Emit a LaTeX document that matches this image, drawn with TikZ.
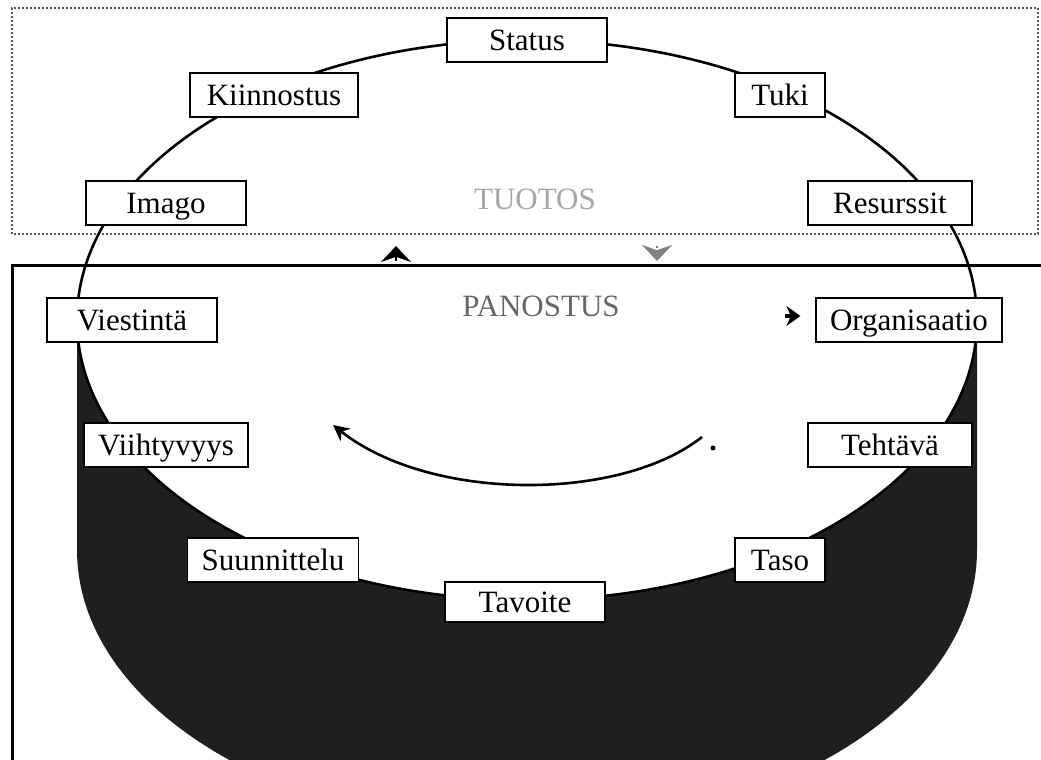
\documentclass[tikz,border=0pt]{standalone}
\usepackage{fontspec}
\setmainfont{Liberation Serif}
\usetikzlibrary{arrows.meta,calc,positioning}

\begin{document}
\begin{tikzpicture}[x=0.5pt,y=0.5pt,>=Stealth,
  lbl/.style={draw,fill=white,line width=0.7pt,minimum width=80pt,minimum height=22pt,
    inner xsep=7pt,text height=10.3pt,text depth=0pt,font=\fontsize{15.5}{18}\selectfont},
  shortlbl/.style={lbl,minimum width=45pt},
  phase/.style={font=\fontsize{15.5}{18}\selectfont,inner sep=0pt}]
\useasboundingbox (0,0) rectangle (1041,760);
\clip (0,0) rectangle (1041,760);

% frames
\draw[black!65,densely dotted,line width=1pt] (12,526) rectangle (1038,752);
\draw[line width=1.5pt] (12,-5) -- (12,494) -- (1045,494);

% dark base under the ring
\fill[black!88] (77,440) -- (77,210) arc[start angle=180,end angle=360,x radius=450,y radius=280]
  -- (977,440) arc[start angle=0,end angle=-180,x radius=450,y radius=280] -- cycle;
\draw[line width=1.3pt] (527,440) ellipse [x radius=450,y radius=280];

\node[phase,text=black!35] (tuotos) at (535,561) {TUOTOS};
\node[phase,text=black!60] (panostus) at (541,454) {PANOSTUS};

% labels on the ring
\node[lbl] (status) at (527,720) {Status};
\node[lbl,minimum width=84pt] (kiinnostus) at (274,665) {Kiinnostus};
\node[shortlbl] (tuki) at (780,665) {Tuki};
\node[lbl] (imago) at (166,557) {Imago};
\node[lbl,minimum width=82pt] (resurssit) at (890,557) {Resurssit};
\node[lbl,minimum width=85pt] (viestinta) at (132,440) {Viestintä};
\node[lbl] (organisaatio) at (909,440) {Organisaatio};
\node[lbl] (viihtyvyys) at (166,315) {Viihtyvyys};
\node[lbl,minimum width=82pt] (tehtava) at (890,315) {Tehtävä};
\node[lbl] (suunnittelu) at (273,200) {Suunnittelu};
\node[shortlbl] (taso) at (780,200) {Taso};
\node[lbl,minimum height=20pt] (tavoite) at (525,158) {Tavoite};

% arrows
\coordinate (upfoot) at (396,499);
\coordinate (uphead) at (396,514);
\coordinate (downfoot) at (657,514);
\coordinate (downhead) at (657,499);
\draw[-{Stealth[length=8pt,width=15pt]},line width=1pt] (upfoot) -- (uphead);
\draw[-{Stealth[length=8pt,width=15pt]},line width=1pt,black!50,densely dotted] (downfoot) -- (downhead);

\coordinate (orgfoot) at ($(organisaatio.west)+(-30,4)$);
\coordinate (orghead) at ($(organisaatio.west)+(-15,4)$);
\draw[-{Stealth[length=7pt,width=10pt]},line width=2pt] (orgfoot) -- (orghead);

\coordinate (cyclestart) at (702,323);
\coordinate (cycleend) at (333,335);
\draw[-{Stealth[length=8pt,width=8pt]},line width=1.3pt] (cyclestart) .. controls (620,258) and (430,258) .. (cycleend);
\fill (713,312) circle (2.5);
\end{tikzpicture}
\end{document}
